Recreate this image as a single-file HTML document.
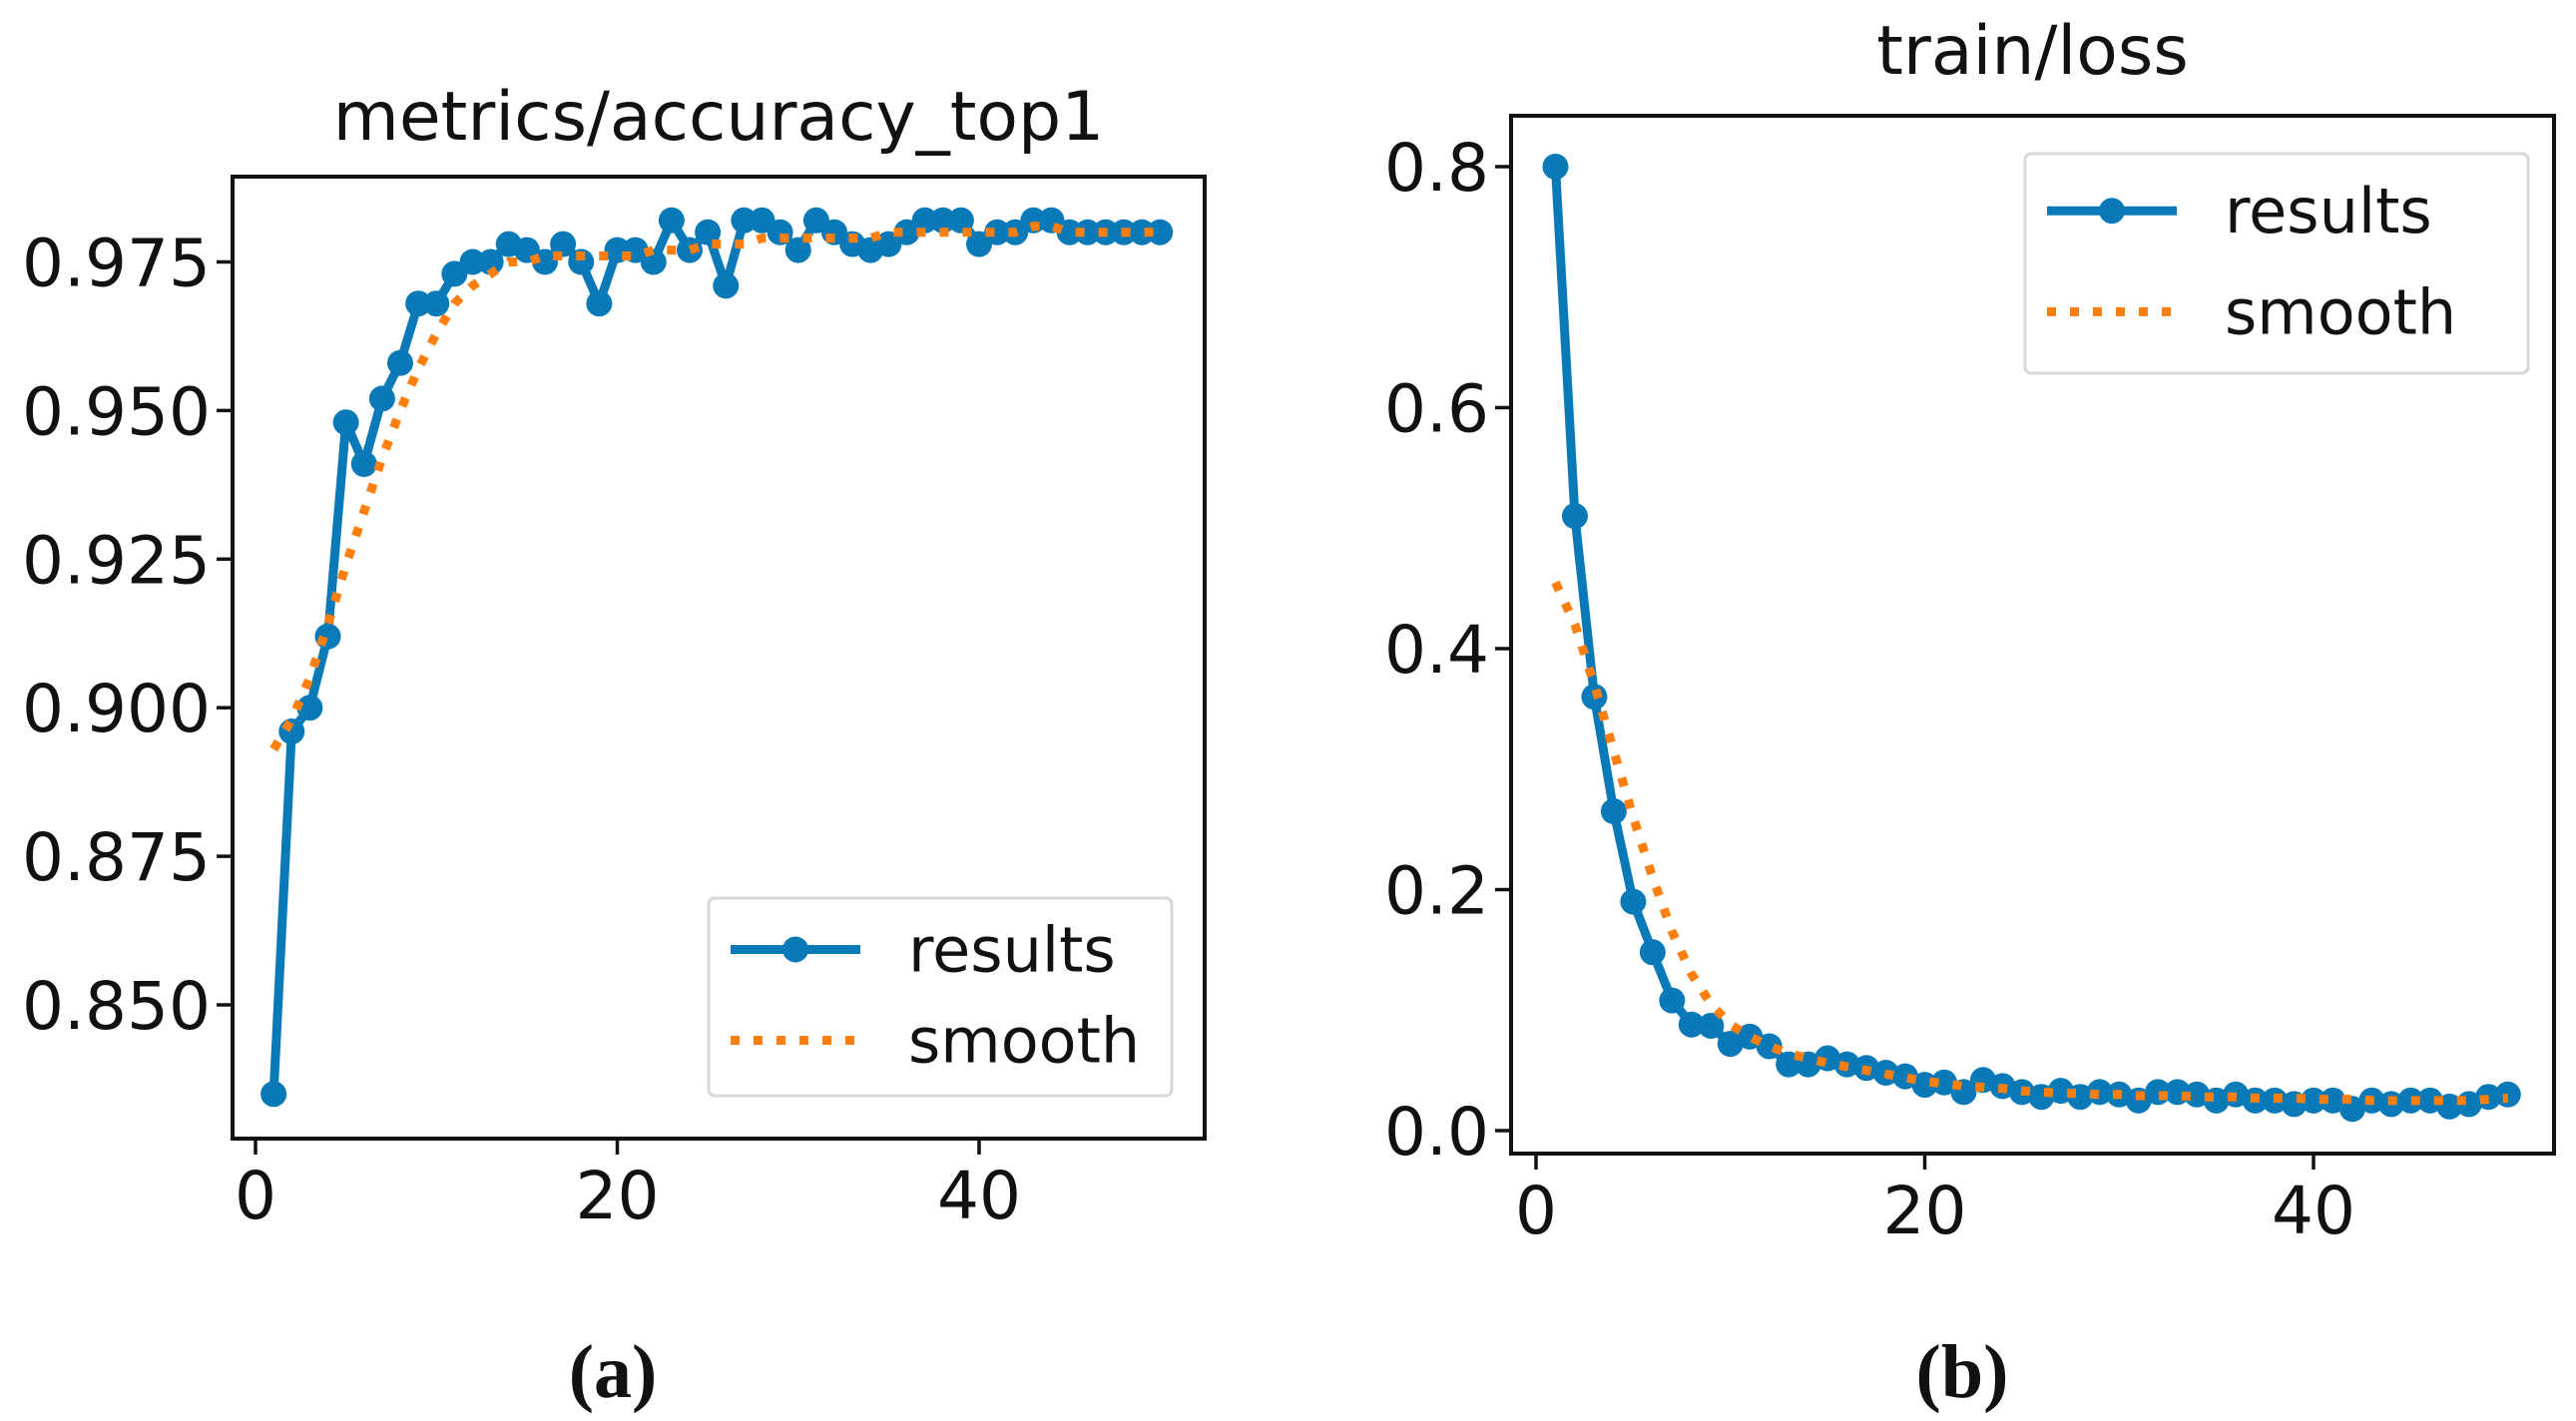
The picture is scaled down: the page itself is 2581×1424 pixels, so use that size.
<!DOCTYPE html>
<html><head><meta charset="utf-8"><style>
html,body{margin:0;padding:0;background:#fff;width:2581px;height:1424px;overflow:hidden}
text{font-family:"DejaVu Sans","Liberation Sans",sans-serif;fill:#111}
</style></head><body>
<svg id="fig" width="2581" height="1424" viewBox="0 0 2581 1424" xmlns="http://www.w3.org/2000/svg"></svg>
<script>
const epochs = Array.from({length:50},(_,i)=>i+1);
const accResults = [0.835,0.896,0.900,0.912,0.948,0.941,0.952,0.958,0.968,0.968,0.973,0.975,0.975,0.978,0.977,0.975,0.978,0.975,0.968,0.977,0.977,0.975,0.982,0.977,0.980,0.971,0.982,0.982,0.980,0.977,0.982,0.980,0.978,0.977,0.978,0.980,0.982,0.982,0.982,0.978,0.980,0.980,0.982,0.982,0.980,0.980,0.980,0.980,0.980,0.980];
const accSmooth = [0.893,0.898,0.905,0.914,0.924,0.933,0.942,0.950,0.957,0.963,0.968,0.971,0.973,0.975,0.975,0.976,0.976,0.976,0.976,0.976,0.976,0.977,0.977,0.977,0.978,0.978,0.978,0.979,0.979,0.979,0.979,0.979,0.979,0.979,0.980,0.980,0.980,0.980,0.980,0.980,0.980,0.980,0.981,0.981,0.980,0.980,0.980,0.980,0.980,0.980];
const lossResults = [0.80,0.51,0.36,0.265,0.19,0.148,0.108,0.088,0.087,0.072,0.078,0.070,0.055,0.055,0.060,0.055,0.052,0.048,0.045,0.038,0.040,0.032,0.042,0.037,0.032,0.028,0.033,0.028,0.032,0.030,0.025,0.032,0.032,0.030,0.025,0.030,0.025,0.025,0.022,0.025,0.025,0.018,0.025,0.022,0.025,0.025,0.020,0.022,0.028,0.030];
const lossSmooth = [0.455,0.42,0.37,0.315,0.26,0.21,0.165,0.13,0.105,0.088,0.078,0.070,0.064,0.060,0.056,0.053,0.050,0.047,0.044,0.041,0.039,0.037,0.036,0.035,0.033,0.032,0.031,0.031,0.030,0.030,0.029,0.029,0.029,0.028,0.028,0.028,0.027,0.027,0.027,0.026,0.026,0.026,0.025,0.025,0.025,0.025,0.025,0.025,0.026,0.027];
const xTicks = [0,20,40];
const accTicks = [0.850,0.875,0.900,0.925,0.950,0.975];
const lossTicks = [0.0,0.2,0.4,0.6,0.8];

const NS="http://www.w3.org/2000/svg";
const svg=document.getElementById('fig');
function mk(tag,attrs,parent){const e=document.createElementNS(NS,tag);for(const k in attrs)e.setAttribute(k,attrs[k]);(parent||svg).appendChild(e);return e;}

function panel(cfg){
  const g=mk('g',{});
  
  
  const sx=v=>cfg.x0px+(v-0)*(cfg.x40px-cfg.x0px)/40;
  const sy=v=>cfg.yA+(v-cfg.vA)*(cfg.yB-cfg.yA)/(cfg.vB-cfg.vA);
  const box=mk('rect',{x:cfg.L,y:cfg.T,width:cfg.R-cfg.L,height:cfg.B-cfg.T,fill:'none',stroke:'#111','stroke-width':4},g);
  
  
  const t=mk('text',{x:(cfg.L+cfg.R)/2,y:cfg.titleY,'text-anchor':'middle','font-size':68},g);
  t.textContent=cfg.title;
  
  
  xTicks.forEach(v=>{
    const x=sx(v);
    mk('line',{x1:x,x2:x,y1:cfg.B,y2:cfg.B+16,stroke:'#111','stroke-width':3.5},g);
    const l=mk('text',{x:x,y:cfg.B+80,'text-anchor':'middle','font-size':66},g);
    l.textContent=v;
    
    
  });
  cfg.yTicks.forEach(v=>{
    const y=sy(v);
    mk('line',{x1:cfg.L-16,x2:cfg.L,y1:y,y2:y,stroke:'#111','stroke-width':3.5},g);
    const l=mk('text',{x:cfg.L-22,y:y+24,'text-anchor':'end','font-size':66},g);
    l.textContent=v.toFixed(cfg.dec);
    
    
  });
  const rp=epochs.map((e,i)=>sx(e)+','+sy(cfg.res[i])).join(' ');
  const line=mk('polyline',{points:rp,fill:'none',stroke:'#0a79b7','stroke-width':9,'stroke-linejoin':'round'},g);
  
  
  epochs.forEach((e,i)=>{
    const c=mk('circle',{cx:sx(e),cy:sy(cfg.res[i]),r:13,fill:'#0a79b7'},g);
    
    
  });
  const sp=epochs.map((e,i)=>sx(e)+','+sy(cfg.sm[i])).join(' ');
  const sm=mk('polyline',{points:sp,fill:'none',stroke:'#ff7f0e','stroke-width':9,'stroke-dasharray':'9 14'},g);
  
  
  const lg=mk('g',{},g);
  
  
  const [lx,ly,lw,lh]=cfg.legend;
  mk('rect',{x:lx,y:ly,width:lw,height:lh,rx:6,fill:'#fff',stroke:'#d8d8d8','stroke-width':3},lg);
  const r1=ly+lh*0.26, r2=ly+lh*0.72;
  mk('line',{x1:lx+22,x2:lx+152,y1:r1,y2:r1,stroke:'#0a79b7','stroke-width':9},lg);
  mk('circle',{cx:lx+87,cy:r1,r:13,fill:'#0a79b7'},lg);
  mk('line',{x1:lx+22,x2:lx+152,y1:r2,y2:r2,stroke:'#ff7f0e','stroke-width':9,'stroke-dasharray':'9 14'},lg);
  const e1=mk('text',{x:lx+200,y:r1+22,'font-size':62},lg); e1.textContent='results';
  
  
  const e2=mk('text',{x:lx+200,y:r2+22,'font-size':62},lg); e2.textContent='smooth';
  
  
  const cap=mk('text',{x:cfg.capX,y:1400,'text-anchor':'middle','font-size':76,'font-weight':'bold'},g);
  cap.setAttribute('style','font-family:"Liberation Serif",serif');
  cap.textContent=cfg.cap;
  
  
}
panel({name:'accuracy-chart',title:'metrics/accuracy_top1',L:233,R:1207,T:177,B:1141,titleY:140,
  x0px:256,x40px:981,vA:0.975,yA:262.5,vB:0.850,yB:1007,yTicks:accTicks,dec:3,
  res:accResults,sm:accSmooth,legend:[710,900,464,198],cap:'(a)',capX:614});
panel({name:'loss-chart',title:'train/loss',L:1514,R:2559,T:116,B:1156,titleY:74,
  x0px:1539,x40px:2318,vA:0.0,yA:1133,vB:0.8,yB:167,yTicks:lossTicks,dec:1,
  res:lossResults,sm:lossSmooth,legend:[2029,154,504,220],cap:'(b)',capX:1966});
</script>
</body></html>
